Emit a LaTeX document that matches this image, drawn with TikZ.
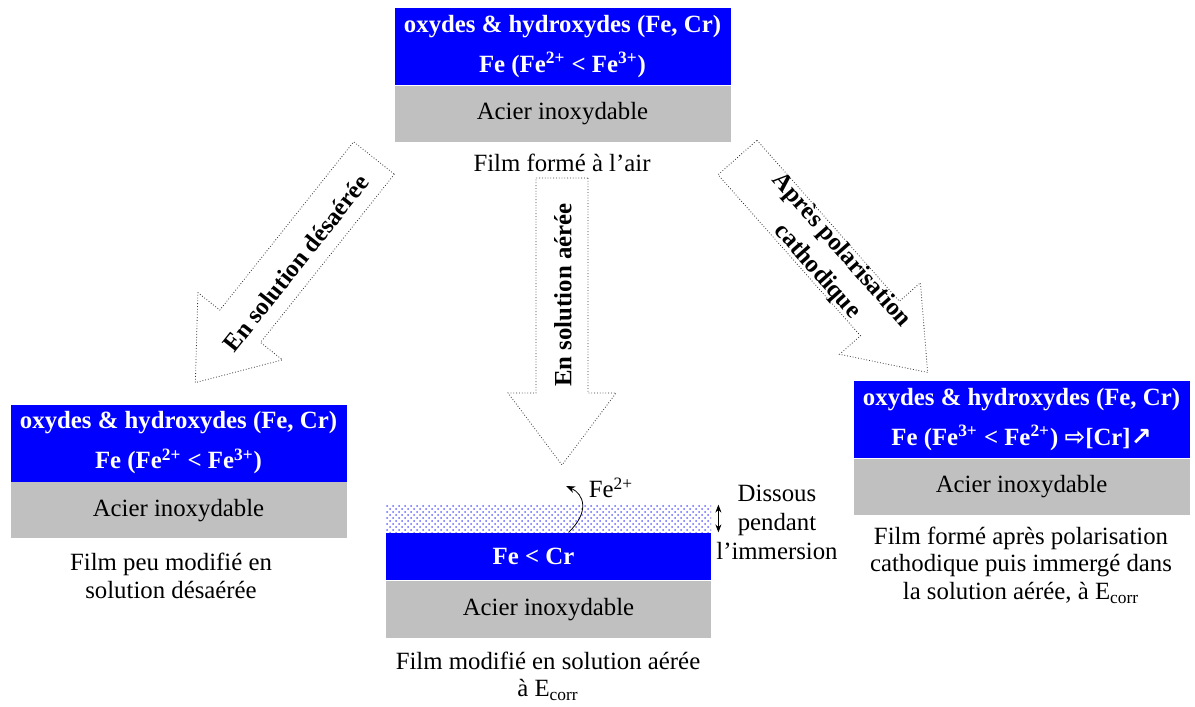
\documentclass[tikz,border=0pt]{standalone}
\usepackage{fontspec}
\setmainfont{Liberation Serif}
\newfontfamily\symfont{DejaVu Sans}
\usepackage{tikz}
\usetikzlibrary{arrows.meta,positioning,patterns}
\definecolor{oxblue}{RGB}{0,0,255}
\definecolor{steelgray}{RGB}{192,192,192}

\begin{document}
\begin{tikzpicture}[
  x=0.5pt, y=-0.5pt,
  font=\fontsize{12.4}{15}\selectfont,
  oxide/.style={fill=oxblue, text=white, font=\fontsize{12.4}{20}\selectfont\bfseries, align=center, inner sep=0pt, minimum width=168pt, minimum height=38.5pt},
  steel/.style={fill=steelgray, inner sep=0pt, minimum width=168pt, minimum height=28pt},
  caption/.style={align=center, font=\fontsize{12.4}{13.8}\selectfont},
  dissolved/.style={pattern=crosshatch dots, pattern color=blue!60, inner sep=0pt, minimum width=162.5pt, minimum height=13.5pt},
  bigarrow/.pic={\draw[densely dotted, draw=black!80, fill=white] (0,-26) -- (215,-26) -- (215,-54) -- (287,0) -- (215,54) -- (215,26) -- (0,26) -- cycle;},
  arrowtext/.style={font=\fontsize{12.4}{16}\selectfont\bfseries, align=center},
  ion/.style={-{Stealth[length=1.6mm]}, thin}
]
\useasboundingbox (0,0) rectangle (1195,707);

% the three treatments
\pic[rotate=231.5] at (374,158) {bigarrow};
\pic[rotate=-90] at (562,178) {bigarrow};
\pic[rotate=-48.5] at (737.5,157.5) {bigarrow};
\node[arrowtext, rotate=51.5] (leftlbl) at (296,263) {En solution désaérée};
\node[arrowtext, rotate=90] (midlbl) at (563,295) {En solution aérée};
\node[arrowtext, rotate=-48.5] (rightlbl) at (829,261) {Après polarisation\\cathodique};

% film formed in air
\node[oxide] (topox) at (562.5,46.5) {oxydes \& hydroxydes (Fe, Cr)\\Fe (Fe\textsuperscript{2+} < Fe\textsuperscript{3+})};
\node[steel, below=0pt of topox] (topsteel) {Acier inoxydable};
\node[caption] (topcap) at (562,163) {Film formé à l'air};

% deaerated solution
\node[oxide] (leftox) at (178.5,443) {oxydes \& hydroxydes (Fe, Cr)\\Fe (Fe\textsuperscript{2+} < Fe\textsuperscript{3+})};
\node[steel, below=0pt of leftox] (leftsteel) {Acier inoxydable};
\node[caption] (leftcap) at (171,576) {Film peu modifié en\\solution désaérée};

% aerated solution
\node[dissolved] (midsol) at (548.5,518.5) {};
\node[oxide, minimum width=162.5pt, minimum height=23.5pt, below=0pt of midsol] (midox) {Fe < Cr\hspace*{15pt}};
\node[steel, minimum width=162.5pt, minimum height=28.5pt, below=0pt of midox] (midsteel) {Acier inoxydable};
\node[caption] (midcap) at (548,676) {Film modifié en solution aérée\\à E\textsubscript{corr}};
\coordinate (ionstart) at ([xshift=10pt]midox.north);
\coordinate (iontip) at (566,486);
\node (ion) at (611,488) {Fe\textsuperscript{2+}};
\draw[ion] (ionstart) .. controls (590,512) and (584,494) .. (iontip);
\coordinate (dtop) at ([xshift=3.5pt]midsol.north east);
\coordinate (dbot) at ([xshift=3.5pt]midsol.south east);
\draw[{Stealth[length=1.4mm]}-{Stealth[length=1.4mm]}] (dtop) -- (dbot);
\node[caption, font=\fontsize{12.4}{14.5}\selectfont] (dissous) at (777,522) {Dissous\\pendant\\l'immersion};

% after cathodic polarisation
\node[oxide] (rightox) at (1021.5,419.5) {oxydes \& hydroxydes (Fe, Cr)\\Fe (Fe\textsuperscript{3+} < Fe\textsuperscript{2+}) {\symfont ⇨}[Cr]{\symfont ↗}};
\node[steel, below=0pt of rightox] (rightsteel) {Acier inoxydable};
\node[caption] (rightcap) at (1021,565) {Film formé après polarisation\\cathodique puis immergé dans\\la solution aérée, à E\textsubscript{corr}};
\end{tikzpicture}
\end{document}
